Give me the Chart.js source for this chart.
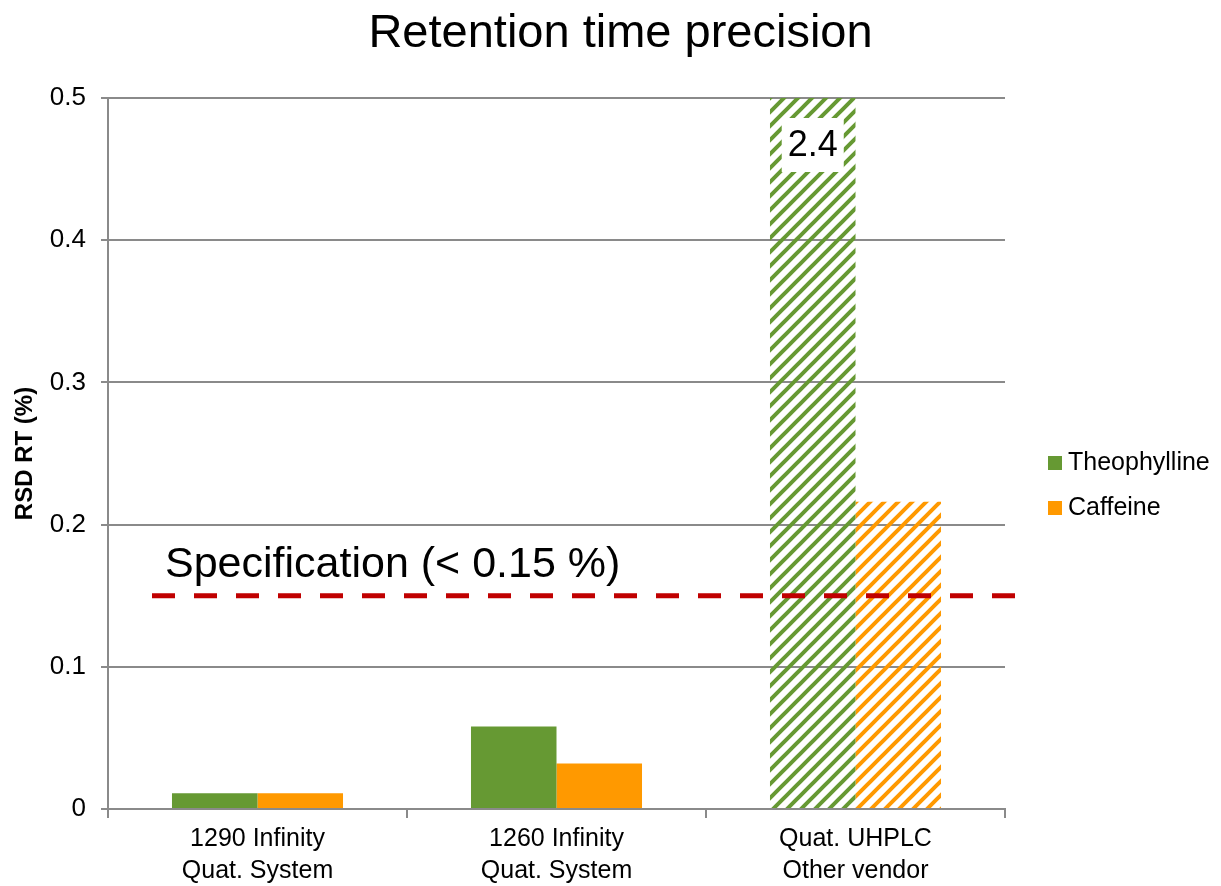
<!DOCTYPE html>
<html>
<head>
<meta charset="utf-8">
<script src="https://cdn.jsdelivr.net/npm/chart.js@4"></script>
<style>
  html, body { margin: 0; padding: 0; background: #fff; }
  #wrap { width: 1221px; height: 886px; }
</style>
</head>
<body>
<div id="wrap"><canvas id="chart" width="1221" height="886"></canvas></div>
<script>
const categories = [
  ["1290 Infinity", "Quat. System"],
  ["1260 Infinity", "Quat. System"],
  ["Quat. UHPLC", "Other vendor"],
];
const theophylline = [0.011, 0.058, 2.4];
const caffeine = [0.011, 0.032, 0.216];
const yTicks = [0, 0.1, 0.2, 0.3, 0.4, 0.5];
const specLimit = 0.15;
const specLabel = "Specification (< 0.15 %)";
const chartTitle = "Retention time precision";

const GREEN = "#669933";
const ORANGE = "#FF9900";
const GRID = "#8a8a8a";
const FONT = "Arial, 'Liberation Sans', sans-serif";

Chart.defaults.font.family = FONT;
Chart.defaults.color = "#000";

// diagonal stripe pattern for the other-vendor bars
function hatch(color) {
  const s = 14;
  const c = document.createElement("canvas");
  c.width = s;
  c.height = s;
  const g = c.getContext("2d");
  g.strokeStyle = color;
  g.lineWidth = 4;
  g.beginPath();
  g.moveTo(0, s); g.lineTo(s, 0);
  g.moveTo(-s / 2, s / 2); g.lineTo(s / 2, -s / 2);
  g.moveTo(s / 2, s + s / 2); g.lineTo(s + s / 2, s / 2);
  g.stroke();
  return g.createPattern(c, "repeat");
}

const lastIdx = categories.length - 1;
const fills = (color) =>
  categories.map((_, i) => (i === lastIdx ? hatch(color) : color));

// title centred on the whole canvas, not just the plot area
const pageTitle = {
  id: "pageTitle",
  afterDraw(chart) {
    const { ctx, width } = chart;
    ctx.save();
    ctx.font = "47px " + FONT;
    ctx.fillStyle = "#000";
    ctx.textAlign = "center";
    ctx.textBaseline = "middle";
    ctx.fillText(chartTitle, width / 2 + 10, 34);
    ctx.restore();
  },
};

const specLine = {
  id: "specLine",
  afterDatasetsDraw(chart) {
    const { ctx, chartArea, scales } = chart;
    const y = scales.y.getPixelForValue(specLimit);
    ctx.save();
    ctx.strokeStyle = "#C00000";
    ctx.lineWidth = 5;
    ctx.setLineDash([23, 19]);
    ctx.beginPath();
    ctx.moveTo(chartArea.left + 44, y);
    ctx.lineTo(chartArea.right + 10, y);
    ctx.stroke();
    ctx.setLineDash([]);
    ctx.fillStyle = "#000";
    ctx.font = "43px " + FONT;
    ctx.textAlign = "left";
    ctx.textBaseline = "alphabetic";
    ctx.fillText(specLabel, chartArea.left + 57, y - 19);

    // value box for the bar that runs off the top
    const meta = chart.getDatasetMeta(0);
    const yMax = scales.y.max;
    theophylline.forEach((v, i) => {
      if (v <= yMax) return;
      const bar = meta.data[i];
      const txt = String(v);
      ctx.font = "36px " + FONT;
      const w = ctx.measureText(txt).width + 12;
      const h = 54;
      const top = chartArea.top + 20;
      ctx.fillStyle = "#fff";
      ctx.fillRect(bar.x - w / 2, top, w, h);
      ctx.fillStyle = "#000";
      ctx.textAlign = "center";
      ctx.textBaseline = "middle";
      ctx.fillText(txt, bar.x, top + h / 2 + 1);
    });
    ctx.restore();
  },
};

const sideLegend = {
  id: "sideLegend",
  afterDraw(chart) {
    const { ctx, chartArea } = chart;
    const colors = [GREEN, ORANGE];
    ctx.save();
    ctx.font = "25px " + FONT;
    ctx.textBaseline = "middle";
    ctx.textAlign = "left";
    chart.data.datasets.forEach((ds, i) => {
      const cy = chartArea.top + 365 + i * 45;
      ctx.fillStyle = colors[i];
      ctx.fillRect(chartArea.right + 43, cy - 7, 14, 14);
      ctx.fillStyle = "#000";
      ctx.fillText(ds.label, chartArea.right + 63, cy);
    });
    ctx.restore();
  },
};

new Chart(document.getElementById("chart"), {
  type: "bar",
  data: {
    labels: categories,
    datasets: [
      { label: "Theophylline", data: theophylline, backgroundColor: fills(GREEN), borderWidth: 0 },
      { label: "Caffeine", data: caffeine, backgroundColor: fills(ORANGE), borderWidth: 0 },
    ],
  },
  options: {
    responsive: false,
    animation: false,
    layout: { padding: { left: 0, right: 216, top: 98, bottom: 0 } },
    datasets: { bar: { categoryPercentage: 0.572, barPercentage: 1 } },
    plugins: {
      legend: { display: false },
      tooltip: { enabled: false },
      title: { display: false },
    },
    scales: {
      x: {
        offset: true,
        grid: {
          offset: true,
          drawOnChartArea: false,
          drawTicks: true,
          tickLength: 9,
          color: GRID,
          lineWidth: 2,
        },
        border: { display: true, color: GRID, width: 2 },
        ticks: { font: { size: 25, lineHeight: 1.28 }, color: "#000", padding: 5, maxRotation: 0, autoSkip: false },
        afterFit(scale) { scale.height = 77; },
      },
      y: {
        min: yTicks[0],
        max: yTicks[yTicks.length - 1],
        afterBuildTicks(scale) { scale.ticks = yTicks.map((v) => ({ value: v })); },
        grid: { color: GRID, lineWidth: 2, tickLength: 7 },
        border: { display: true, color: GRID, width: 2 },
        ticks: { font: { size: 26 }, color: "#000", padding: 15, callback: (v) => String(v) },
        title: {
          display: true,
          text: "RSD RT (%)",
          font: { size: 24, weight: "bold" },
          color: "#000",
          padding: { top: 11, bottom: 0 },
        },
        afterFit(scale) { scale.width = 108; },
      },
    },
  },
  plugins: [pageTitle, specLine, sideLegend],
});
</script>
</body>
</html>
